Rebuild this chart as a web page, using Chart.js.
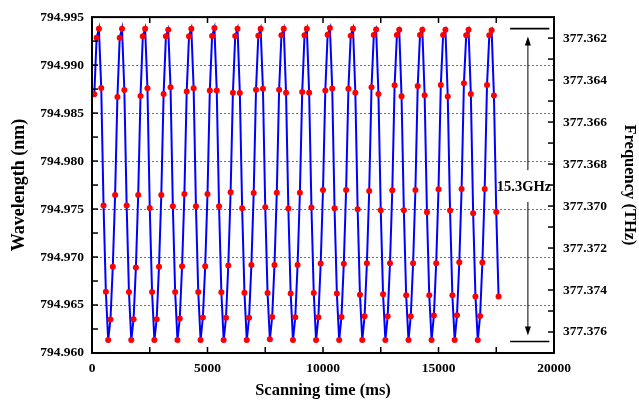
<!DOCTYPE html>
<html>
<head>
<meta charset="utf-8">
<script src="https://cdn.jsdelivr.net/npm/chart.js@4.4.1/dist/chart.umd.min.js"></script>
<style>
html,body{margin:0;padding:0;background:#fff;}
#wrap{width:639px;height:402px;}
</style>
</head>
<body>
<div id="wrap"><canvas id="c" width="639" height="402"></canvas></div>
<script>
// ---- data ----
const times = [100,200,300,400,500,600,700,800,900,1000,
1100,1200,1300,1400,1500,1600,1700,1800,1900,2000,
2100,2200,2300,2400,2500,2600,2700,2800,2900,3000,
3100,3200,3300,3400,3500,3600,3700,3800,3900,4000,
4100,4200,4300,4400,4500,4600,4700,4800,4900,5000,
5100,5200,5300,5400,5500,5600,5700,5800,5900,6000,
6100,6200,6300,6400,6500,6600,6700,6800,6900,7000,
7100,7200,7300,7400,7500,7600,7700,7800,7900,8000,
8100,8200,8300,8400,8500,8600,8700,8800,8900,9000,
9100,9200,9300,9400,9500,9600,9700,9800,9900,10000,
10100,10200,10300,10400,10500,10600,10700,10800,10900,11000,
11100,11200,11300,11400,11500,11600,11700,11800,11900,12000,
12100,12200,12300,12400,12500,12600,12700,12800,12900,13000,
13100,13200,13300,13400,13500,13600,13700,13800,13900,14000,
14100,14200,14300,14400,14500,14600,14700,14800,14900,15000,
15100,15200,15300,15400,15500,15600,15700,15800,15900,16000,
16100,16200,16300,16400,16500,16600,16700,16800,16900,17000,
17100,17200,17300,17400,17500,17600];

const wavelength = [
794.98695,794.99286,794.99379,794.98762,794.97536,794.96639,794.96135,794.96349,794.96898,794.97646,
794.98668,794.99286,794.99379,794.98741,794.97536,794.96635,794.96135,794.96352,794.96891,794.97646,
794.98679,794.99300,794.99379,794.98758,794.97512,794.96635,794.96135,794.96352,794.96898,794.97646,
794.98700,794.99300,794.99368,794.98768,794.97529,794.96635,794.96135,794.96359,794.96904,794.97657,
794.98726,794.99300,794.99379,794.98758,794.97529,794.96635,794.96135,794.96370,794.96904,794.97657,
794.98734,794.99303,794.99386,794.98734,794.97529,794.96632,794.96135,794.96366,794.96911,794.97674,
794.98713,794.99303,794.99379,794.98710,794.97509,794.96628,794.96135,794.96366,794.96918,794.97667,
794.98744,794.99306,794.99379,794.98754,794.97519,794.96624,794.96142,794.96376,794.96918,794.97670,
794.98744,794.99310,794.99379,794.98713,794.97505,794.96621,794.96135,794.96373,794.96918,794.97670,
794.98720,794.99310,794.99379,794.98713,794.97515,794.96624,794.96135,794.96373,794.96932,794.97698,
794.98734,794.99316,794.99386,794.98756,794.97509,794.96621,794.96135,794.96376,794.96929,794.97698,
794.98754,794.99306,794.99379,794.98713,794.97498,794.96608,794.96135,794.96383,794.96935,794.97688,
794.98768,794.99314,794.99372,794.98700,794.97488,794.96611,794.96135,794.96383,794.96935,794.97695,
794.98789,794.99314,794.99368,794.98675,794.97488,794.96601,794.96135,794.96383,794.96935,794.97698,
794.98782,794.99314,794.99368,794.98685,794.97467,794.96601,794.96135,794.96390,794.96935,794.97705,
794.98793,794.99314,794.99368,794.98672,794.97484,794.96601,794.96135,794.96393,794.96946,794.97709,
794.98810,794.99310,794.99368,794.98700,794.97457,794.96590,794.96135,794.96386,794.96943,794.97709,
794.98793,794.99310,794.99362,794.98682,794.97470,794.96590];

// ---- ticks ----
const xTicks = [0,5000,10000,15000,20000];
const xMinor = [2500,7500,12500,17500];
const leftTicks = [794.960,794.965,794.970,794.975,794.980,794.985,794.990,794.995];
const leftMinor = [794.9625,794.9675,794.9725,794.9775,794.9825,794.9875,794.9925];
const rightTicks = [377.362,377.364,377.366,377.368,377.370,377.372,377.374,377.376];
const rightMinor = [377.363,377.365,377.367,377.369,377.371,377.373,377.375];

// ---- annotation (data coords) ----
const spanTop = 794.9938, spanBottom = 794.9612;
const spanX0 = 18100, spanX1 = 19800, arrowX = 18870;
const arrowGapTop = 794.97905, arrowGapBottom = 794.97574;
const spanLabel = '15.3GHz', spanLabelX = 18700, spanLabelY = 794.97729;

const FONT = '"Liberation Serif", "Times New Roman", serif';
const tickFont = {family: FONT, size: 13.5, weight: 'bold'};

const decor = {
  id: 'decor',
  beforeDatasetsDraw(chart) {
    const {ctx, chartArea: a, scales: {y}} = chart;
    ctx.save();
    ctx.strokeStyle = '#0a9cab';
    ctx.lineWidth = 1;
    ctx.setLineDash([2, 2]);
    leftTicks.slice(1, -1).forEach(v => {
      const py = Math.round(y.getPixelForValue(v)) + 0.5;
      ctx.beginPath(); ctx.moveTo(Math.round(a.left), py); ctx.lineTo(Math.round(a.right), py); ctx.stroke();
    });
    ctx.restore();
  },
  afterDatasetsDraw(chart) {
    const {ctx, chartArea: a, scales: {x, y, y2}} = chart;
    ctx.save();
    ctx.strokeStyle = '#000';
    ctx.lineWidth = 1.5;
    const TL = 6;
    xTicks.concat(xMinor).forEach(v => {
      const px = x.getPixelForValue(v);
      if (px <= a.left + 1 || px >= a.right - 1) return;
      ctx.beginPath();
      ctx.moveTo(px, a.bottom); ctx.lineTo(px, a.bottom - TL);
      ctx.moveTo(px, a.top); ctx.lineTo(px, a.top + TL);
      ctx.stroke();
    });
    leftTicks.concat(leftMinor).forEach(v => {
      const py = y.getPixelForValue(v);
      if (py <= a.top + 1 || py >= a.bottom - 1) return;
      ctx.beginPath(); ctx.moveTo(a.left, py); ctx.lineTo(a.left + TL, py); ctx.stroke();
    });
    rightTicks.concat(rightMinor).forEach(v => {
      const py = y2.getPixelForValue(v);
      if (py <= a.top + 1 || py >= a.bottom - 1) return;
      ctx.beginPath(); ctx.moveTo(a.right, py); ctx.lineTo(a.right - TL, py); ctx.stroke();
    });
    ctx.lineWidth = 2;
    ctx.strokeRect(a.left, a.top, a.right - a.left, a.bottom - a.top);
    const x0 = x.getPixelForValue(spanX0), x1 = x.getPixelForValue(spanX1);
    const yt = y.getPixelForValue(spanTop), yb = y.getPixelForValue(spanBottom);
    ctx.lineWidth = 1.6;
    ctx.beginPath();
    ctx.moveTo(x0, yt); ctx.lineTo(x1, yt);
    ctx.moveTo(x0, yb); ctx.lineTo(x1, yb);
    ctx.stroke();
    const ax = x.getPixelForValue(arrowX);
    const tipT = yt + 8, tipB = yb - 6;
    const gT = y.getPixelForValue(arrowGapTop), gB = y.getPixelForValue(arrowGapBottom);
    ctx.lineWidth = 1;
    ctx.beginPath();
    ctx.moveTo(ax, tipT + 6); ctx.lineTo(ax, gT);
    ctx.moveTo(ax, gB); ctx.lineTo(ax, tipB - 6);
    ctx.stroke();
    ctx.fillStyle = '#000';
    ctx.beginPath();
    ctx.moveTo(ax, tipT); ctx.lineTo(ax - 3, tipT + 9); ctx.lineTo(ax + 3, tipT + 9); ctx.closePath(); ctx.fill();
    ctx.beginPath();
    ctx.moveTo(ax, tipB); ctx.lineTo(ax - 3, tipB - 9); ctx.lineTo(ax + 3, tipB - 9); ctx.closePath(); ctx.fill();
    ctx.font = 'bold 14.5px ' + FONT;
    ctx.textAlign = 'center';
    ctx.textBaseline = 'middle';
    ctx.fillText(spanLabel, x.getPixelForValue(spanLabelX), y.getPixelForValue(spanLabelY));
    ctx.restore();
  }
};

new Chart(document.getElementById('c'), {
  type: 'line',
  data: {
    datasets: [{
      data: times.map((t, i) => ({x: t, y: wavelength[i]})),
      borderColor: '#0000ff',
      borderWidth: 2,
      pointBackgroundColor: '#ff0000',
      pointBorderColor: '#ff0000',
      pointBorderWidth: 0,
      pointRadius: 3,
      tension: 0,
      yAxisID: 'y'
    }]
  },
  options: {
    responsive: false,
    animation: false,
    events: [],
    layout: {padding: {top: 14, left: 0, right: 0, bottom: 0}},
    plugins: {legend: {display: false}, tooltip: {enabled: false}},
    scales: {
      x: {
        type: 'linear', position: 'bottom', min: 0, max: 20000,
        afterBuildTicks: s => { s.ticks = xTicks.map(v => ({value: v})); },
        afterFit: s => { s.height = 49; },
        ticks: {font: tickFont, color: '#000', padding: 7, maxRotation: 0, autoSkip: false, callback: v => String(v)},
        grid: {display: false, drawTicks: false},
        border: {display: false},
        title: {display: true, text: 'Scanning time (ms)', font: {family: FONT, size: 16.5, weight: 'bold'}, color: '#000', padding: {top: 0, bottom: 1}}
      },
      y: {
        type: 'linear', position: 'left', min: 794.960, max: 794.995,
        afterBuildTicks: s => { s.ticks = leftTicks.map(v => ({value: v})); },
        afterFit: s => { s.width = 92; },
        ticks: {font: tickFont, color: '#000', padding: 8, callback: v => v.toFixed(3)},
        grid: {display: false, drawTicks: false},
        border: {display: false},
        title: {display: true, text: 'Wavelength (nm)', font: {family: FONT, size: 18, weight: 'bold'}, color: '#000', padding: {top: 9, bottom: 0}}
      },
      y2: {
        type: 'linear', position: 'right', min: 377.361, max: 377.377, reverse: true,
        afterBuildTicks: s => { s.ticks = rightTicks.map(v => ({value: v})); },
        afterFit: s => { s.width = 85; },
        ticks: {font: tickFont, color: '#000', padding: 9, callback: v => v.toFixed(3)},
        grid: {display: false, drawTicks: false},
        border: {display: false},
        title: {display: true, text: 'Frequency (THz)', font: {family: FONT, size: 16.5, weight: 'bold'}, color: '#000', padding: {top: 0, bottom: 0}}
      }
    }
  },
  plugins: [decor]
});
</script>
</body>
</html>
